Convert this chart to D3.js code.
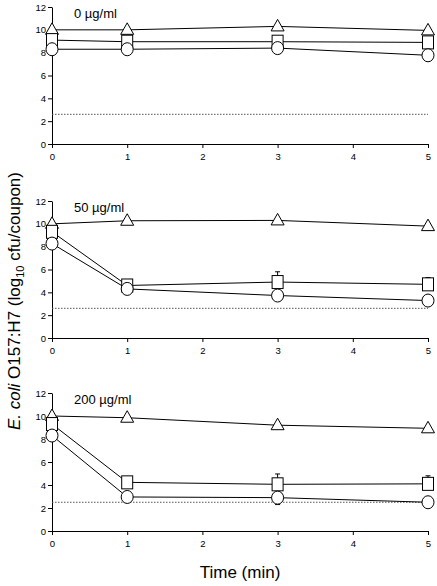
<!DOCTYPE html>
<html><head><meta charset="utf-8">
<script src="https://cdn.jsdelivr.net/npm/d3@7/dist/d3.min.js"></script>
<style>body{margin:0;background:#fff}svg{display:block}</style>
</head><body>
<svg id="c" width="437" height="586"></svg>
<script>
const times = [0, 1, 3, 5];
const xTicks = [0, 1, 2, 3, 4, 5];
const yTicks = [0, 2, 4, 6, 8, 10, 12];
const panelLabels = ["0 µg/ml", "50 µg/ml", "200 µg/ml"];
const triangle = [[10.0, 10.0, 10.3, 9.95], [10.0, 10.27, 10.3, 9.8], [10.0, 9.85, 9.2, 8.93]];
const square = [[9.1, 8.96, 8.96, 8.9], [9.3, 4.6, 4.9, 4.7], [9.3, 4.23, 4.06, 4.1]];
const circle = [[8.3, 8.3, 8.4, 7.77], [8.27, 4.3, 3.72, 3.28], [8.3, 2.96, 2.9, 2.5]];
const squareErr = [[0, 0, 0, 0], [0, 0, 0.9, 0.6], [0, 0, 0.9, 0.7]];
const circleErr = [[0, 0, 0, 0], [0, 0, 0.3, 0], [0, 0, 0.6, 0.3]];
const detectLimit = [2.6, 2.6, 2.5];

const svg = d3.select("#c");
const panels = [{top: 7, bottom: 144}, {top: 201, bottom: 338}, {top: 393, bottom: 531}];
const x = d3.scaleLinear().domain([0, 5]).range([52, 428]);
const FONT = "Arial, Liberation Sans, sans-serif";

panels.forEach((p, i) => {
  const y = d3.scaleLinear().domain([0, 12]).range([p.bottom, p.top]);
  const g = svg.append("g");
  const ya = g.append("g").attr("transform", `translate(${x(0)},0)`)
    .call(d3.axisLeft(y).tickValues(yTicks).tickFormat(d3.format("d")).tickSize(4).tickSizeOuter(0).tickPadding(2));
  const xa = g.append("g").attr("transform", `translate(0,${p.bottom})`)
    .call(d3.axisBottom(x).tickValues(xTicks).tickFormat(d3.format("d")).tickSize(4).tickSizeOuter(0).tickPadding(5));
  [ya, xa].forEach(a => {
    a.select(".domain").attr("stroke", "#000").attr("stroke-width", 1);
    a.selectAll(".tick line").attr("stroke", "#000");
    a.selectAll("text").attr("font-family", FONT).attr("font-size", 9.5).attr("fill", "#000");
  });
  g.append("line").attr("x1", x(0)).attr("x2", x(5))
    .attr("y1", y(detectLimit[i])).attr("y2", y(detectLimit[i]))
    .attr("stroke", "#555").attr("stroke-width", 1).attr("stroke-dasharray", "1.5,1.5");
  g.append("text").attr("x", 74).attr("y", p.top + 11).text(panelLabels[i])
    .attr("font-family", FONT).attr("font-size", 13).attr("fill", "#000");

  const line = d3.line().x((d, j) => x(times[j])).y(d => y(d));
  [triangle[i], square[i], circle[i]].forEach(s => {
    g.append("path").attr("d", line(s)).attr("fill", "none").attr("stroke", "#000").attr("stroke-width", 1);
  });
  square[i].forEach((v, j) => {
    const e = squareErr[i][j];
    if (e > 0) {
      g.append("line").attr("x1", x(times[j])).attr("x2", x(times[j])).attr("y1", y(v)).attr("y2", y(v + e)).attr("stroke", "#000");
      g.append("line").attr("x1", x(times[j]) - 2.5).attr("x2", x(times[j]) + 2.5).attr("y1", y(v + e)).attr("y2", y(v + e)).attr("stroke", "#000");
    }
  });
  circle[i].forEach((v, j) => {
    const e = circleErr[i][j];
    if (e > 0) {
      g.append("line").attr("x1", x(times[j])).attr("x2", x(times[j])).attr("y1", y(v)).attr("y2", y(v - e)).attr("stroke", "#000");
      g.append("line").attr("x1", x(times[j]) - 2.5).attr("x2", x(times[j]) + 2.5).attr("y1", y(v - e)).attr("y2", y(v - e)).attr("stroke", "#000");
    }
  });
  triangle[i].forEach((v, j) => {
    const cx = x(times[j]), cy = y(v);
    g.append("path").attr("d", `M${cx},${cy - 7}L${cx + 6.5},${cy + 4.5}L${cx - 6.5},${cy + 4.5}Z`)
      .attr("fill", "#fff").attr("stroke", "#000").attr("stroke-width", 1);
  });
  square[i].forEach((v, j) => {
    const cx = x(times[j]), cy = y(v);
    g.append("rect").attr("x", cx - 5.5).attr("y", cy - 6.5).attr("width", 11).attr("height", 13)
      .attr("fill", "#fff").attr("stroke", "#000").attr("stroke-width", 1);
  });
  circle[i].forEach((v, j) => {
    const cx = x(times[j]), cy = y(v);
    g.append("ellipse").attr("cx", cx).attr("cy", cy).attr("rx", 6).attr("ry", 6.5)
      .attr("fill", "#fff").attr("stroke", "#000").attr("stroke-width", 1);
  });
});

svg.append("text").attr("transform", "translate(20,301) rotate(-90)").attr("text-anchor", "middle")
  .attr("font-family", FONT).attr("font-size", 17).attr("fill", "#000")
  .call(t => {
    t.append("tspan").attr("font-style", "italic").text("E. coli");
    t.append("tspan").text(" O157:H7 (log");
    t.append("tspan").attr("font-size", 11).attr("dy", 4).text("10");
    t.append("tspan").attr("dy", -4).text(" cfu/coupon)");
  });
svg.append("text").attr("x", 240).attr("y", 578).attr("text-anchor", "middle")
  .attr("font-family", FONT).attr("font-size", 17).attr("fill", "#000")
  .text("Time (min)");
</script>
</body></html>
